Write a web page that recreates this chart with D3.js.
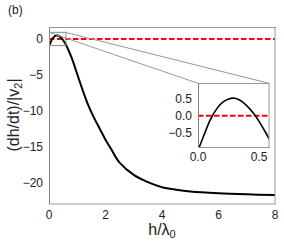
<!DOCTYPE html>
<html>
    <head>
        <meta charset="utf-8">
        <script src="https://d3js.org/d3.v7.min.js"></script>
        <style>
            * { margin: 0; padding: 0; }
            body { background: #fff; overflow: hidden; }
            svg { display: block; }
            text { font-family: 'Liberation Sans', Arial, sans-serif; fill: #222; }
        </style>
    </head>
    <body>
        <script>
            // curve: h/lambda0 vs (dh/dt)/|v2|
            const hx = [0, 0.05, 0.1, 0.15, 0.2, 0.25, 0.3, 0.35, 0.4, 0.45, 0.5, 0.55, 0.6, 0.8, 1.0, 1.2, 1.4, 1.6, 1.8, 2.0, 2.2, 2.5, 3.0, 3.5, 4.0, 4.5, 5.0, 6.0, 7.0, 8.0];
            const rate = [-1.0, -0.55, -0.12, 0.18, 0.38, 0.48, 0.5, 0.43, 0.28, 0.08, -0.17, -0.47, -0.8, -2.6, -4.9, -7.2, -9.3, -11.0, -12.5, -14.0, -15.3, -17.2, -18.9, -19.9, -20.6, -20.95, -21.2, -21.45, -21.6, -21.7];
            const xTicks = [0, 2, 4, 6, 8];
            const yTicks = [0, -5, -10, -15, -20];
            const insetXTicks = [0.0, 0.5];
            const insetYTicks = [0.5, 0.0, -0.5];
            const insetXDomain = [0, 0.58];
            const insetYDomain = [-0.91, 0.93];

            const data = hx.map((x, i) => ({ x: x, y: rate[i] }));

            const width = 284;
            const height = 245;
            const svg = d3.select('body').append('svg').attr('width', width).attr('height', height);

            const x = d3.scaleLinear().domain([0, 8]).range([49, 275]);
            const y = d3.scaleLinear().domain([-22.8, 1.67]).range([203, 27]);

            svg.append('defs').append('clipPath').attr('id', 'mainClip')
                .append('rect').attr('x', 49).attr('y', 27).attr('width', 226).attr('height', 176);

            const line = d3.line().x((d) => x(d.x)).y((d) => y(d.y)).curve(d3.curveCatmullRom);

            // zero line
            svg.append('line')
                .attr('x1', x(0)).attr('x2', x(8))
                .attr('y1', y(0)).attr('y2', y(0))
                .attr('stroke', '#ff0000').attr('stroke-width', 2).attr('stroke-dasharray', '5.5,2.5');

            svg.append('path').datum(data)
                .attr('clip-path', 'url(#mainClip)')
                .attr('d', line)
                .attr('fill', 'none').attr('stroke', '#000').attr('stroke-width', 2);

            // spines
            svg.append('line').attr('x1', 49.5).attr('x2', 49.5).attr('y1', 27).attr('y2', 204).attr('stroke', '#808080');
            svg.append('line').attr('x1', 49).attr('x2', 276).attr('y1', 27.5).attr('y2', 27.5).attr('stroke', '#999');
            svg.append('line').attr('x1', 275).attr('x2', 275).attr('y1', 27).attr('y2', 204).attr('stroke', '#999');
            svg.append('line').attr('x1', 49).attr('x2', 276).attr('y1', 204).attr('y2', 204).attr('stroke', '#999');

            svg.append('g').selectAll('text').data(xTicks).enter().append('text')
                .attr('x', (d) => x(d)).attr('y', 219)
                .attr('text-anchor', 'middle').attr('font-size', 12)
                .text((d) => d);

            svg.append('g').selectAll('text').data(yTicks).enter().append('text')
                .attr('x', 43).attr('y', (d) => y(d) + 4.3)
                .attr('text-anchor', 'end').attr('font-size', 12)
                .text((d) => (d < 0 ? '\u2212' + Math.abs(d) : d));

            // axis labels
            const xl = svg.append('text').attr('x', 162).attr('y', 235).attr('text-anchor', 'middle').attr('font-size', 16);
            xl.append('tspan').text('h/\u03bb');
            xl.append('tspan').attr('font-size', 11).attr('dy', 3).text('0');

            const yl = svg.append('text').attr('transform', 'translate(19,115) rotate(-90)').attr('text-anchor', 'middle').attr('font-size', 16);
            yl.append('tspan').text('(dh/dt)/|v');
            yl.append('tspan').attr('font-size', 11).attr('dy', 3).text('2');
            yl.append('tspan').attr('dy', -3).text('|');

            svg.append('text').attr('x', 8).attr('y', 14).attr('font-size', 12).text('(b)');

            // inset
            const ix = d3.scaleLinear().domain(insetXDomain).range([198, 269]);
            const iy = d3.scaleLinear().domain(insetYDomain).range([147.3, 83.3]);

            // zoom box on the main axes and connectors
            svg.append('rect')
                .attr('x', x(insetXDomain[0]) + 0.5).attr('y', y(insetYDomain[1]))
                .attr('width', x(insetXDomain[1]) - x(insetXDomain[0])).attr('height', y(insetYDomain[0]) - y(insetYDomain[1]))
                .attr('fill', 'none').attr('stroke', '#8a8a8a').attr('stroke-width', 1);
            svg.append('line')
                .attr('x1', x(insetXDomain[0])).attr('y1', y(insetYDomain[1]))
                .attr('x2', ix.range()[0]).attr('y2', iy.range()[1])
                .attr('stroke', '#999').attr('stroke-width', 1);
            svg.append('line')
                .attr('x1', x(insetXDomain[1])).attr('y1', y(insetYDomain[1]))
                .attr('x2', ix.range()[1]).attr('y2', iy.range()[1])
                .attr('stroke', '#999').attr('stroke-width', 1);

            const inset = svg.append('g');
            inset.append('rect').attr('x', 198).attr('y', 83.3).attr('width', 71).attr('height', 64).attr('fill', '#fff');
            svg.select('defs').append('clipPath').attr('id', 'insetClip')
                .append('rect').attr('x', 198).attr('y', 83.3).attr('width', 71).attr('height', 64);

            const insetLine = d3.line().x((d) => ix(d.x)).y((d) => iy(d.y)).curve(d3.curveCatmullRom);

            inset.append('line')
                .attr('x1', ix.range()[0]).attr('x2', ix.range()[1])
                .attr('y1', iy(0)).attr('y2', iy(0))
                .attr('stroke', '#ff0000').attr('stroke-width', 2).attr('stroke-dasharray', '5.5,2.5');

            inset.append('path').datum(data.filter((d) => d.x <= 0.8))
                .attr('clip-path', 'url(#insetClip)')
                .attr('d', insetLine)
                .attr('fill', 'none').attr('stroke', '#000').attr('stroke-width', 1.6);

            inset.append('line').attr('x1', 198.5).attr('x2', 198.5).attr('y1', 83).attr('y2', 148).attr('stroke', '#808080');
            inset.append('line').attr('x1', 198).attr('x2', 270).attr('y1', 83.5).attr('y2', 83.5).attr('stroke', '#999');
            inset.append('line').attr('x1', 269).attr('x2', 269).attr('y1', 83).attr('y2', 148).attr('stroke', '#999');
            inset.append('line').attr('x1', 198).attr('x2', 270).attr('y1', 147.5).attr('y2', 147.5).attr('stroke', '#999');

            inset.append('g').selectAll('text').data(insetXTicks).enter().append('text')
                .attr('x', (d) => ix(d)).attr('y', 161)
                .attr('text-anchor', 'middle').attr('font-size', 12)
                .text((d) => d.toFixed(1));

            inset.append('g').selectAll('text').data(insetYTicks).enter().append('text')
                .attr('x', 192).attr('y', (d) => iy(d) + 4.3)
                .attr('text-anchor', 'end').attr('font-size', 12)
                .text((d) => (d < 0 ? '\u2212' + Math.abs(d).toFixed(1) : d.toFixed(1)));
        </script>
    </body>
</html>
